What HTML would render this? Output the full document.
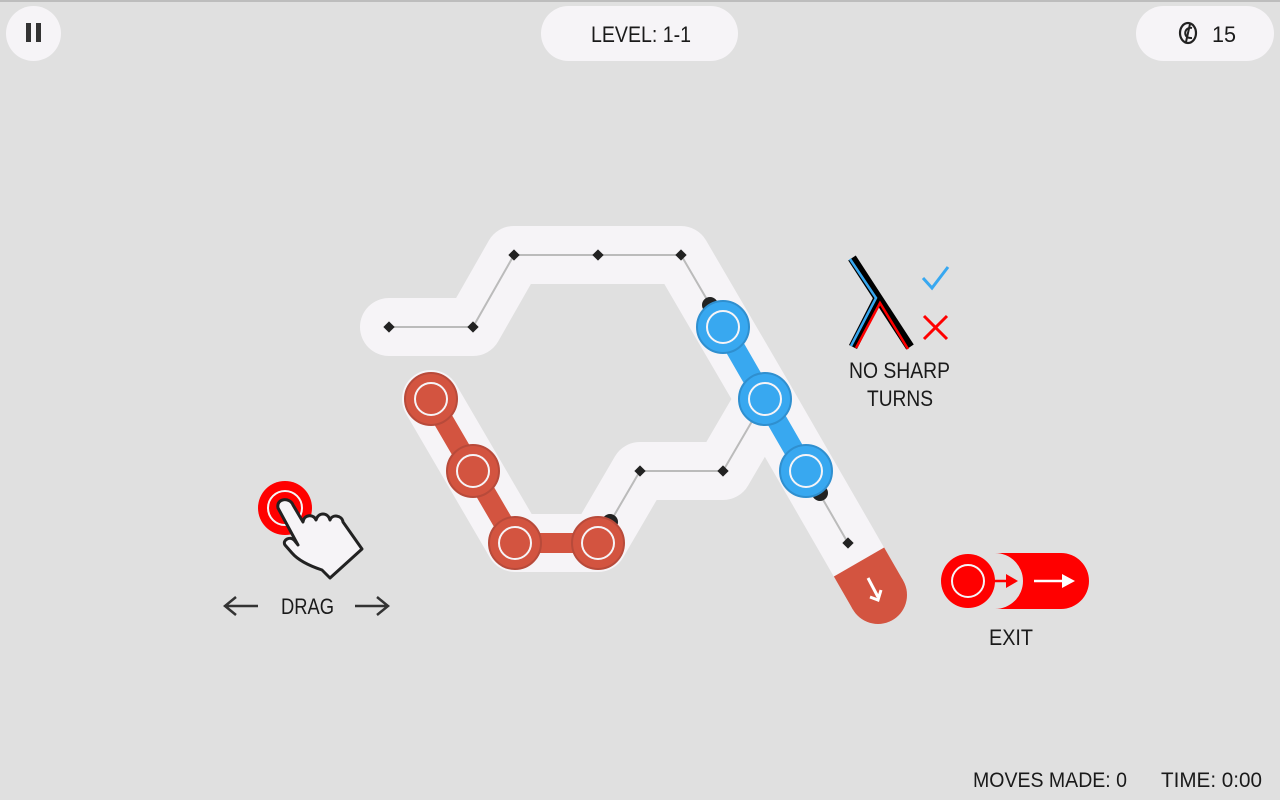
<!DOCTYPE html>
<html><head><meta charset="utf-8"><style>
html,body{margin:0;padding:0;background:#e0e0e0;}
svg{display:block}
text{font-family:"Liberation Sans",sans-serif;fill:#1a1a1a}
</style></head><body>
<svg width="1280" height="800" viewBox="0 0 1280 800" xmlns="http://www.w3.org/2000/svg">
<rect width="1280" height="800" fill="#e0e0e0"/>
<rect width="1280" height="2" fill="#bdbdbd"/>
<!-- top bar -->
<rect x="6" y="6" width="55" height="55" rx="27.5" fill="#f6f4f7"/>
<rect x="26" y="23" width="5" height="19" fill="#333"/><rect x="36" y="23" width="5" height="19" fill="#333"/>
<rect x="541" y="6" width="197" height="55" rx="27.5" fill="#f6f4f7"/>
<text x="591" y="42" font-size="22" textLength="100" lengthAdjust="spacingAndGlyphs">LEVEL: 1-1</text>
<rect x="1136" y="6" width="138" height="55" rx="27.5" fill="#f6f4f7"/>
<ellipse cx="1188" cy="33" rx="8" ry="10" fill="none" stroke="#222" stroke-width="2.2"/>
<path d="M1190,24 L1186,42 M1192,28 C1184,26 1182,39 1192,38" stroke="#222" stroke-width="2" fill="none"/>
<text x="1212" y="42" font-size="22" textLength="24" lengthAdjust="spacingAndGlyphs">15</text>
<!-- track -->
<g fill="none" stroke="#f6f4f7" stroke-width="58" stroke-linejoin="round" stroke-linecap="round">
<path d="M389,327 L473,327 L514,255 L681,255 L765,399 L848,543 L860,564"/>
<path d="M431,399 L515,543 L598,543 L640,471 L723,471 L765,399"/>
</g>
<line x1="859" y1="562" x2="878" y2="595" stroke="#d35440" stroke-width="58"/>
<circle cx="878" cy="595" r="29" fill="#d35440"/>
<path d="M868,578 L878,597 M870,597 L878,600 L881,590" stroke="#fff" stroke-width="3" fill="none"/>
<!-- thin guide lines -->
<g fill="none" stroke="#bbb" stroke-width="2">
<path d="M389,327 L473,327 L514,255 L681,255 L765,399 L848,543"/>
<path d="M598,543 L640,471 L723,471 L765,399"/>
</g>
<g fill="#222">
<rect x="385" y="323" width="8" height="8" transform="rotate(45 389 327)"/>
<rect x="469" y="323" width="8" height="8" transform="rotate(45 473 327)"/>
<rect x="510" y="251" width="8" height="8" transform="rotate(45 514 255)"/>
<rect x="594" y="251" width="8" height="8" transform="rotate(45 598 255)"/>
<rect x="677" y="251" width="8" height="8" transform="rotate(45 681 255)"/>
<rect x="636" y="467" width="8" height="8" transform="rotate(45 640 471)"/>
<rect x="719" y="467" width="8" height="8" transform="rotate(45 723 471)"/>
<rect x="844" y="539" width="8" height="8" transform="rotate(45 848 543)"/>
<circle cx="710" cy="305" r="8"/><circle cx="820" cy="493" r="8"/><circle cx="610" cy="522" r="8"/>
</g>
<!-- red train -->
<path d="M431,399 L515,543 L598,543" fill="none" stroke="#d35440" stroke-width="20"/>
<g stroke="#b84a3a" stroke-width="2" fill="#d35440">
<circle cx="431" cy="399" r="26"/><circle cx="473" cy="471" r="26"/><circle cx="515" cy="543" r="26"/><circle cx="598" cy="543" r="26"/>
</g>
<g stroke="#f6f4f7" stroke-width="2" fill="none">
<circle cx="431" cy="399" r="16"/><circle cx="473" cy="471" r="16"/><circle cx="515" cy="543" r="16"/><circle cx="598" cy="543" r="16"/>
</g>
<!-- blue train -->
<path d="M723,327 L806,471" fill="none" stroke="#38a8f0" stroke-width="20"/>
<g stroke="#2f8fcf" stroke-width="2" fill="#38a8f0">
<circle cx="723" cy="327" r="26"/><circle cx="765" cy="399" r="26"/><circle cx="806" cy="471" r="26"/>
</g>
<g stroke="#f6f4f7" stroke-width="2" fill="none">
<circle cx="723" cy="327" r="16"/><circle cx="765" cy="399" r="16"/><circle cx="806" cy="471" r="16"/>
</g>
<!-- drag hint -->
<circle cx="285" cy="508" r="27" fill="#ff0000"/>
<circle cx="285" cy="508" r="17" fill="none" stroke="#f6f4f7" stroke-width="2"/>
<path d="M278,508 C276,498 290,497 293,505 L303,522 C304,514 314,514 316,520 C318,512 328,512 330,520 C332,514 342,515 343,522 L362,549 L330,578 L322,570 C310,566 298,560 292,553 L285,545 C282,540 290,536 294,540 L298,545 Z" fill="#f6f4f7" stroke="#222" stroke-width="3" stroke-linejoin="round"/>
<path d="M226,606 H258 M236,597 L225,606 L236,615" stroke="#333" stroke-width="2.5" fill="none"/>
<path d="M355,606 H388 M377,597 L388,606 L377,615" stroke="#333" stroke-width="2.5" fill="none"/>
<text x="281" y="614" font-size="22" textLength="53" lengthAdjust="spacingAndGlyphs">DRAG</text>
<!-- no sharp turns -->
<g stroke-linecap="butt" fill="none">
<path d="M852,258 L910,347" stroke="#000" stroke-width="9"/>
<path d="M878,298 L853,347" stroke="#000" stroke-width="9"/>
<path d="M850,259 L876,298 L851,346" stroke="#38a8f0" stroke-width="2.5"/>
<path d="M856,348 L880,303 L908,349" stroke="#ff0000" stroke-width="2.5"/>
</g>
<path d="M923,278 L932,288 L948,267" stroke="#38a8f0" stroke-width="3" fill="none"/>
<path d="M924,316 L947,339 M947,316 L924,339" stroke="#ff0000" stroke-width="3" fill="none"/>
<text x="849" y="378" font-size="22" textLength="101" lengthAdjust="spacingAndGlyphs">NO SHARP</text>
<text x="867" y="406" font-size="22" textLength="66" lengthAdjust="spacingAndGlyphs">TURNS</text>
<!-- exit -->
<path d="M995,553 H1061 A28,28 0 0 1 1061,609 H995 A28,28 0 0 0 995,553 Z" fill="#ff0000"/>
<circle cx="968" cy="581" r="27" fill="#ff0000"/>
<circle cx="968" cy="581" r="16" fill="none" stroke="#f6f4f7" stroke-width="2"/>
<path d="M993,581 H1010" stroke="#ff0000" stroke-width="2.5"/><path d="M1006,574 L1018,581 L1006,588 Z" fill="#ff0000"/>
<path d="M1034,581 H1066" stroke="#fff" stroke-width="2.5"/><path d="M1062,574 L1075,581 L1062,588 Z" fill="#fff"/>
<text x="989" y="645" font-size="22" textLength="44" lengthAdjust="spacingAndGlyphs">EXIT</text>
<!-- bottom -->
<text x="973" y="787" font-size="21" fill="#222" textLength="154" lengthAdjust="spacingAndGlyphs">MOVES MADE: 0</text>
<text x="1161" y="787" font-size="21" fill="#222" textLength="101" lengthAdjust="spacingAndGlyphs">TIME: 0:00</text>
</svg>
</body></html>
